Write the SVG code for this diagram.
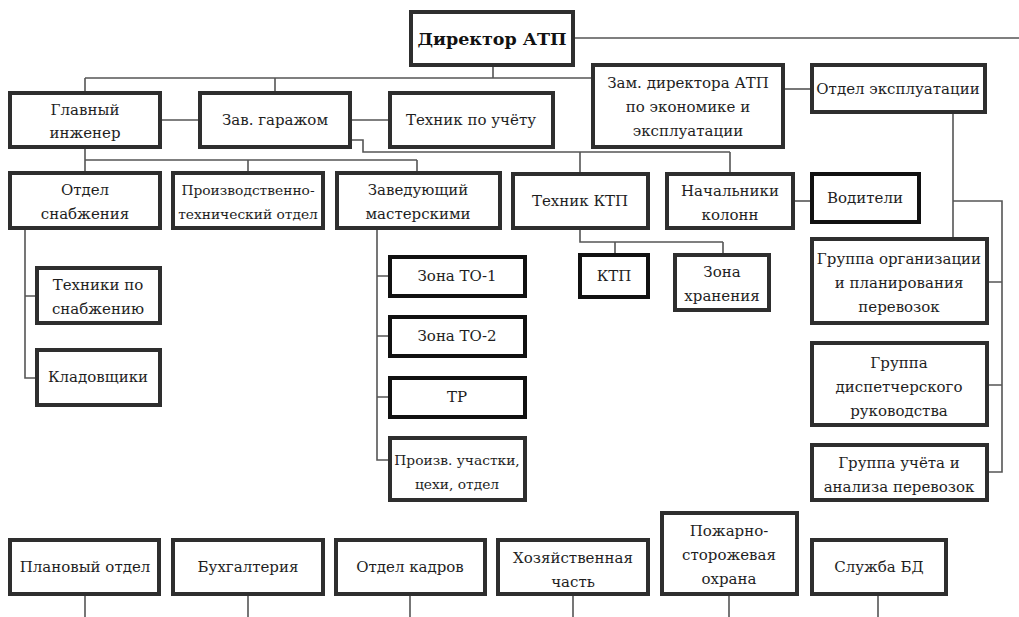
<svg xmlns="http://www.w3.org/2000/svg" width="1019" height="617" viewBox="0 0 1019 617">
<style>
.b{fill:#fff;stroke:#2e2e2e;stroke-width:4}
.k{fill:#fff;stroke:#111;stroke-width:4}
text{font-family:"DejaVu Serif",serif;font-size:15px;fill:#1e1e1e;text-anchor:middle}
.t{font-weight:bold;font-size:17.5px;fill:#111}
.s{font-size:13.8px}
#conn path{fill:none;stroke:#555;stroke-width:1.6}
</style>
<g id="conn">
<path d="M573 38H1019"/>
<path d="M493 65V78M85 78H595M85 78V93M275 78V93"/>
<path d="M160 120H200M350 120H390"/>
<path d="M783 89H812"/>
<path d="M350 140H363V152H730M580 152V174M730 152V174"/>
<path d="M85 147V160H417M85 160V173M248 160V173M417 160V173"/>
<path d="M793 201H812"/>
<path d="M580 228V242H723M615 242V255M723 242V255"/>
<path d="M25 228V378H37M25 296H37"/>
<path d="M377 228V460H390M377 276H390M377 336H390M377 397H390"/>
<path d="M953 112V239M953 201H1002V472H987M1002 282H987M1002 385H987"/>
<path d="M85 594V617M248 594V617M410 594V617M573 594V617M729 594V617M878 594V617"/>
</g>
<g id="director"><rect class="b" x="411" y="12" width="162" height="53"/><text class="t" x="492" y="45">Директор АТП</text></g>
<g id="glavinzh"><rect class="b" x="10" y="93" width="150" height="54"/><text x="85" y="115">Главный</text><text x="85" y="138">инженер</text></g>
<g id="zavgar"><rect class="b" x="200" y="93" width="150" height="54"/><text x="275" y="125">Зав. гаражом</text></g>
<g id="tehuch"><rect class="b" x="390" y="93" width="163" height="54"/><text x="471" y="125">Техник по учёту</text></g>
<g id="zamdir"><rect class="b" x="593" y="65" width="190" height="82"/><text x="688" y="88">Зам. директора АТП</text><text x="688" y="112">по экономике и</text><text x="688" y="136">эксплуатации</text></g>
<g id="otdexp"><rect class="b" x="812" y="65" width="173" height="47"/><text x="898" y="94">Отдел эксплуатации</text></g>
<g id="otdsnab"><rect class="b" x="10" y="173" width="150" height="55"/><text x="85" y="195">Отдел</text><text x="85" y="219">снабжения</text></g>
<g id="pto"><rect class="b" x="173" y="173" width="150" height="55"/><text class="s" x="248" y="195">Производственно-</text><text class="s" x="248" y="219">технический отдел</text></g>
<g id="zavmast"><rect class="b" x="337" y="173" width="163" height="55"/><text x="418" y="195">Заведующий</text><text x="418" y="219">мастерскими</text></g>
<g id="tehktp"><rect class="b" x="513" y="174" width="135" height="54"/><text x="580" y="206">Техник КТП</text></g>
<g id="nachkol"><rect class="b" x="667" y="174" width="126" height="54"/><text x="730" y="196">Начальники</text><text x="730" y="220">колонн</text></g>
<g id="voditeli"><rect class="k" x="812" y="174" width="107" height="48"/><text x="865" y="203">Водители</text></g>
<g id="ktp"><rect class="k" x="580" y="255" width="68" height="42"/><text x="614" y="281">КТП</text></g>
<g id="zonahr"><rect class="b" x="675" y="255" width="94" height="55"/><text x="722" y="277">Зона</text><text x="722" y="301">хранения</text></g>
<g id="tehsnab"><rect class="b" x="37" y="268" width="123" height="55"/><text x="98" y="290">Техники по</text><text x="98" y="314">снабжению</text></g>
<g id="klad"><rect class="b" x="37" y="350" width="123" height="55"/><text x="98" y="382">Кладовщики</text></g>
<g id="to1"><rect class="k" x="390" y="257" width="135" height="39"/><text x="457" y="281">Зона ТО-1</text></g>
<g id="to2"><rect class="k" x="390" y="317" width="135" height="39"/><text x="457" y="341">Зона ТО-2</text></g>
<g id="tr"><rect class="k" x="390" y="378" width="135" height="39"/><text x="457" y="402">ТР</text></g>
<g id="proizv"><rect class="b" x="390" y="438" width="135" height="62"/><text class="s" x="457" y="465">Произв. участки,</text><text class="s" x="457" y="489">цехи, отдел</text></g>
<g id="grorg"><rect class="b" x="812" y="239" width="175" height="84"/><text x="899" y="264">Группа организации</text><text x="899" y="288">и планирования</text><text x="899" y="312">перевозок</text></g>
<g id="grdisp"><rect class="b" x="812" y="343" width="175" height="82"/><text x="899" y="368">Группа</text><text x="899" y="392">диспетчерского</text><text x="899" y="416">руководства</text></g>
<g id="gruch"><rect class="b" x="812" y="445" width="175" height="55"/><text x="899" y="468">Группа учёта и</text><text x="899" y="492">анализа перевозок</text></g>
<g id="plan"><rect class="b" x="10" y="540" width="149" height="54"/><text x="85" y="572">Плановый отдел</text></g>
<g id="buh"><rect class="b" x="173" y="540" width="150" height="54"/><text x="248" y="572">Бухгалтерия</text></g>
<g id="kadr"><rect class="b" x="336" y="540" width="149" height="54"/><text x="410" y="572">Отдел кадров</text></g>
<g id="hoz"><rect class="b" x="498" y="540" width="150" height="54"/><text x="573" y="563">Хозяйственная</text><text x="573" y="587">часть</text></g>
<g id="pozh"><rect class="b" x="662" y="513" width="135" height="81"/><text x="729" y="536">Пожарно-</text><text x="729" y="560">сторожевая</text><text x="729" y="584">охрана</text></g>
<g id="sbd"><rect class="b" x="812" y="540" width="134" height="54"/><text x="879" y="572">Служба БД</text></g>
</svg>
